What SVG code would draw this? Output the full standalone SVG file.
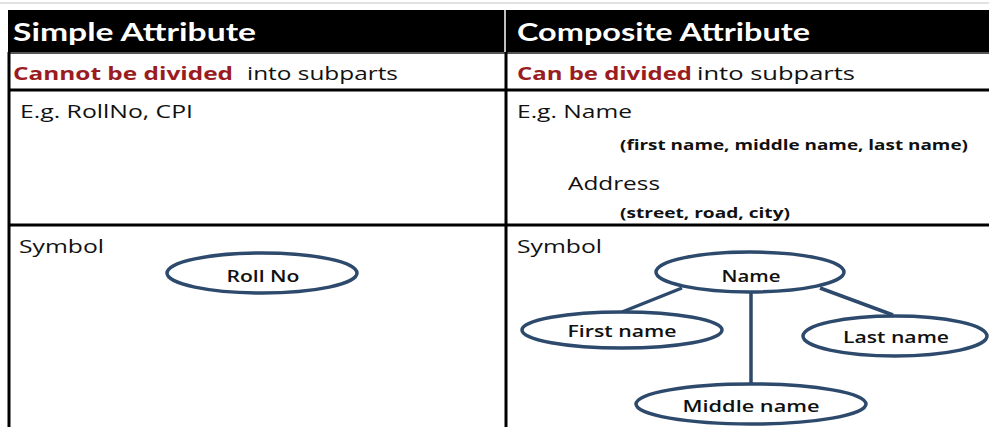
<svg xmlns="http://www.w3.org/2000/svg" width="989" height="427" viewBox="0 0 989 427">
<style>
.hd{font-family:Lato,"Open Sans",sans-serif;font-weight:bold;font-size:24px;fill:#fff}
.t{font-family:"Open Sans",Lato,sans-serif;font-size:18.5px;fill:#111}
.r{font-family:"Open Sans",Lato,sans-serif;font-weight:bold;font-size:18.5px;fill:#9a1c1f}
.s{font-family:"Open Sans",Lato,sans-serif;font-weight:bold;font-size:13.5px;fill:#111}
.n{font-family:"Open Sans",Lato,sans-serif;font-weight:600;font-size:16.5px;fill:#111;text-anchor:middle}
.grid{stroke:#000;stroke-width:3;fill:none}
.el{fill:#fff;stroke:#2d4a6d;stroke-width:3.5}
.ln{stroke:#2d4a6d;stroke-width:3.5;fill:none}
</style>
<rect width="989" height="427" fill="#fff"/>
<line x1="0" y1="3" x2="989" y2="3" stroke="#e2e2e2" stroke-width="2"/>
<g id="table">
<rect x="8" y="10" width="981" height="42" fill="#000"/>
<line x1="505" y1="10" x2="505" y2="52" stroke="#fff" stroke-width="1.5"/>
<line x1="8" y1="53" x2="989" y2="53" stroke="#555" stroke-width="2"/>
<line class="grid" x1="9" y1="52" x2="9" y2="427"/>
<line class="grid" x1="506" y1="52" x2="506" y2="427"/>
<line class="grid" x1="8" y1="90" x2="989" y2="90"/>
<line class="grid" x1="8" y1="225" x2="989" y2="225"/>
</g>
<g id="header">
<text class="hd" x="13" y="41" textLength="243" lengthAdjust="spacingAndGlyphs">Simple Attribute</text>
<text class="hd" x="517" y="41" textLength="293" lengthAdjust="spacingAndGlyphs">Composite Attribute</text>
</g>
<g id="row1">
<text class="r" x="13" y="80" textLength="220" lengthAdjust="spacingAndGlyphs">Cannot be divided</text>
<text class="t" x="247" y="80" textLength="151" lengthAdjust="spacingAndGlyphs">into subparts</text>
<text class="r" x="517" y="80" textLength="175" lengthAdjust="spacingAndGlyphs">Can be divided</text>
<text class="t" x="697" y="80" textLength="158" lengthAdjust="spacingAndGlyphs">into subparts</text>
</g>
<g id="row2">
<text class="t" x="20" y="118" textLength="173" lengthAdjust="spacingAndGlyphs">E.g. RollNo, CPI</text>
<text class="t" x="517" y="118" textLength="115" lengthAdjust="spacingAndGlyphs">E.g. Name</text>
<text class="s" x="620" y="150" textLength="348" lengthAdjust="spacingAndGlyphs">(first name, middle name, last name)</text>
<text class="t" x="568" y="190" textLength="92" lengthAdjust="spacingAndGlyphs">Address</text>
<text class="s" x="620" y="218" textLength="170" lengthAdjust="spacingAndGlyphs">(street, road, city)</text>
</g>
<g id="row3">
<text class="t" x="19" y="253" textLength="85" lengthAdjust="spacingAndGlyphs">Symbol</text>
<text class="t" x="517" y="253" textLength="85" lengthAdjust="spacingAndGlyphs">Symbol</text>
</g>
<g id="connectors">
<line class="ln" x1="682" y1="288" x2="622" y2="312"/>
<line class="ln" x1="820" y1="288" x2="893" y2="315"/>
<line class="ln" x1="751" y1="292" x2="751" y2="383"/>
</g>
<g id="rollno">
<ellipse class="el" cx="262" cy="273" rx="95" ry="20"/>
<text class="n" x="263" y="282" textLength="73" lengthAdjust="spacingAndGlyphs">Roll No</text>
</g>
<g id="name">
<ellipse class="el" cx="750" cy="272" rx="94" ry="20"/>
<text class="n" x="751" y="282" textLength="59" lengthAdjust="spacingAndGlyphs">Name</text>
</g>
<g id="firstname">
<ellipse class="el" cx="622" cy="330" rx="100" ry="18"/>
<text class="n" x="622" y="337" textLength="109" lengthAdjust="spacingAndGlyphs">First name</text>
</g>
<g id="lastname">
<ellipse class="el" cx="895" cy="336" rx="92" ry="20"/>
<text class="n" x="896" y="343" textLength="106" lengthAdjust="spacingAndGlyphs">Last name</text>
</g>
<g id="middlename">
<ellipse class="el" cx="751" cy="404" rx="115" ry="20"/>
<text class="n" x="751" y="412" textLength="137" lengthAdjust="spacingAndGlyphs">Middle name</text>
</g>
</svg>
